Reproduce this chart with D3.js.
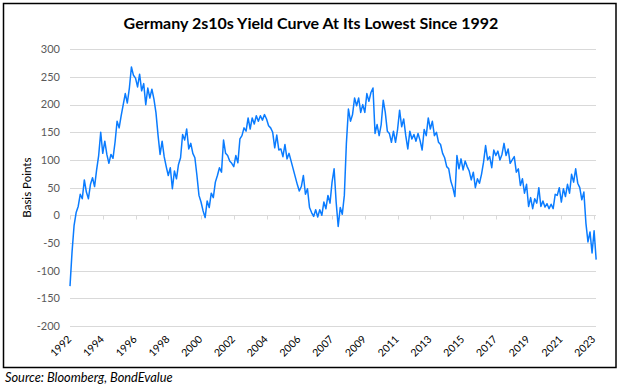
<!DOCTYPE html>
<html><head><meta charset="utf-8">
<script src="https://cdn.jsdelivr.net/npm/d3@7"></script>
<style>html,body{margin:0;padding:0;background:#fff}svg{display:block}</style>
</head><body>
<script>
const title = "Germany 2s10s Yield Curve At Its Lowest Since 1992";
const yTitle = "Basis Points";
const source = "Source: Bloomberg, BondEvalue";
const xLabels = ["1992","1994","1996","1998","2000","2002","2004","2006","2007","2009","2011","2013","2015","2017","2019","2021","2023"];
const yTicks = [300,250,200,150,100,50,0,-50,-100,-150,-200];
const pointsPerLabel = 16;
const spread = [
-128,-66,-18,5,16,38,30,64,42,30,
56,68,52,82,108,150,112,134,110,94,
110,103,132,170,158,180,200,220,203,230,
268,253,248,232,255,225,238,200,230,212,
228,210,185,145,110,134,106,88,72,86,
48,80,66,92,104,146,136,156,120,130,
112,104,72,36,24,8,-4,26,14,40,
32,60,72,86,78,136,112,108,98,94,
88,108,95,138,144,158,152,176,156,176,
165,180,170,180,172,182,174,162,158,150,
122,145,118,120,106,128,102,112,98,84,
70,56,44,52,72,38,48,14,5,-2,
10,-3,10,0,24,12,36,22,60,84,
24,-20,14,2,36,130,192,170,182,212,
198,212,186,200,186,220,206,222,230,148,
164,144,164,208,186,152,148,132,152,132,
155,190,160,174,144,120,152,138,146,134,
148,135,118,155,144,176,156,170,144,150,
132,128,112,104,88,84,62,50,34,108,
84,102,82,98,88,80,64,78,50,66,
58,74,96,126,100,106,86,118,108,116,
100,110,130,108,120,94,100,106,78,84,
54,66,40,56,16,32,12,30,22,50,
16,26,15,21,12,20,12,38,36,50,
24,48,34,56,40,74,60,84,58,50,
28,42,-14,-48,-30,-68,-28,-80
];

const W = 622, H = 388;
const svg = d3.select("body").append("svg").attr("width", W).attr("height", H);
const font = "Lato, 'Open Sans', 'Liberation Sans', sans-serif";

const x = d3.scaleLinear().domain([0, xLabels.length - 1]).range([70, 594.1]);
const y = d3.scaleLinear().domain([-200, 300]).range([326, 49.3]);
const xEnd = 596;

// frame
svg.append("rect").attr("x", 3.5).attr("y", 3.5).attr("width", 612.5).attr("height", 364)
  .attr("fill", "none").attr("stroke", "#000").attr("stroke-width", 1.5);

// title
svg.append("text").attr("x", 311).attr("y", 29).attr("text-anchor", "middle")
  .attr("font-family", font).attr("font-weight", "bold").attr("font-size", 16)
  .attr("fill", "#000").text(title);

// gridlines
svg.append("g").selectAll("line").data(yTicks).join("line")
  .attr("x1", x(0)).attr("x2", xEnd)
  .attr("y1", d => Math.round(y(d)) + 0.5).attr("y2", d => Math.round(y(d)) + 0.5)
  .attr("stroke", "#d9d9d9").attr("stroke-width", 1);

// y labels
svg.append("g").selectAll("text").data(yTicks).join("text")
  .attr("x", 60).attr("y", d => y(d)).attr("dy", "0.35em").attr("text-anchor", "end")
  .attr("font-family", font).attr("font-size", 11).attr("fill", "#595959").text(d => d);

// y title
svg.append("text").attr("transform", `translate(31,${(y(300)+y(-200))/2}) rotate(-90)`)
  .attr("text-anchor", "middle").attr("font-family", font).attr("font-size", 11.5)
  .attr("fill", "#000").text(yTitle);

// x ticks on zero line
const y0 = Math.round(y(0)) + 0.5;
svg.append("g").selectAll("line").data(xLabels).join("line")
  .attr("x1", (d, i) => Math.round(x(i)) + 0.5).attr("x2", (d, i) => Math.round(x(i)) + 0.5)
  .attr("y1", y0).attr("y2", y0 + 4).attr("stroke", "#d9d9d9");

// x labels
svg.append("g").selectAll("text").data(xLabels).join("text")
  .attr("transform", (d, i) => `translate(${x(i) + 2},${340}) rotate(-45)`)
  .attr("text-anchor", "end").attr("font-family", font).attr("font-size", 10.5)
  .attr("fill", "#000").text(d => d);

// line
const line = d3.line().x((d, i) => x(i / pointsPerLabel)).y(d => y(d));
svg.append("path").datum(spread).attr("d", line).attr("fill", "none")
  .attr("stroke", "#0a7cff").attr("stroke-width", 1.5).attr("stroke-linejoin", "round");

// source
svg.append("text").attr("x", 5).attr("y", 382).attr("font-family", font)
  .attr("font-style", "italic").attr("font-size", 12.8).attr("fill", "#000").text(source);
</script>
</body></html>
